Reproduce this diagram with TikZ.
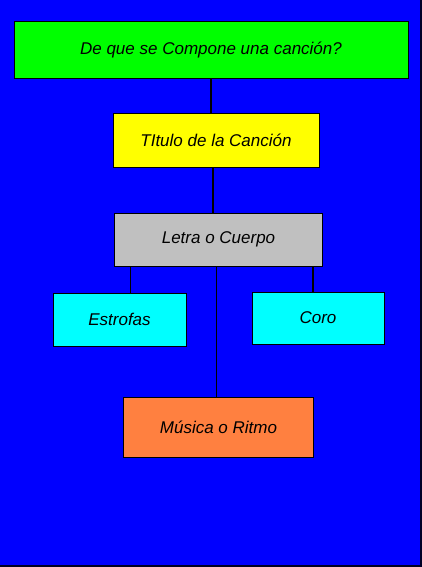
\documentclass[tikz,border=0pt]{standalone}
\usepackage{fontspec}
\setmainfont{Liberation Sans}
\usetikzlibrary{positioning}
\definecolor{fondo}{RGB}{0,0,255}
\definecolor{verde}{RGB}{0,255,0}
\definecolor{amarillo}{RGB}{255,255,0}
\definecolor{gris}{RGB}{192,192,192}
\definecolor{celeste}{RGB}{0,255,255}
\definecolor{naranja}{RGB}{255,128,64}
\begin{document}
\begin{tikzpicture}[x=1pt, y=-1pt,
	caja/.style={draw=black, line width=1pt, inner sep=0pt, font=\fontsize{17}{20}\selectfont\itshape},
	linea/.style={draw=black, line width=1.2pt}]
	\useasboundingbox (0,0) rectangle (422,567);
	\fill [black!85!fondo] (0,0) rectangle (422,567);
	\fill [fondo] (0,0) rectangle (420,565);
	\node [caja, fill=verde, minimum width=394pt, minimum height=57pt] (pregunta) at (211,50.5) {De que se Compone una canción?};
	\node [caja, fill=amarillo, minimum width=206pt, minimum height=53pt] (titulo) at (216,140.5) {TItulo de la Canción};
	\node [caja, fill=gris, minimum width=208pt, minimum height=53pt] (letra) at (218.5,239.5) {Letra o Cuerpo};
	\node [caja, fill=celeste, minimum width=133pt, minimum height=53pt] (estrofas) at (119.5,319.5) {Estrofas};
	\node [caja, fill=celeste, minimum width=132pt, minimum height=52pt] (coro) at (318,318) {Coro};
	\node [caja, fill=naranja, minimum width=190pt, minimum height=60pt] (musica) at (218.5,427.5) {Música o Ritmo};
	\draw [linea] ([xshift=-5pt]titulo.north) -- ([xshift=-5pt]titulo.north |- pregunta.south);
	\draw [linea] ([xshift=-3pt]titulo.south) -- ([xshift=-3pt]titulo.south |- letra.north);
	\draw [linea] ([xshift=11pt]estrofas.north) -- ([xshift=11pt]estrofas.north |- letra.south);
	\draw [linea] ([xshift=-5pt]coro.north) -- ([xshift=-5pt]coro.north |- letra.south);
	\draw [linea] ([xshift=-2.3pt]musica.north) -- ([xshift=-2.3pt]musica.north |- letra.south);
\end{tikzpicture}
\end{document}
